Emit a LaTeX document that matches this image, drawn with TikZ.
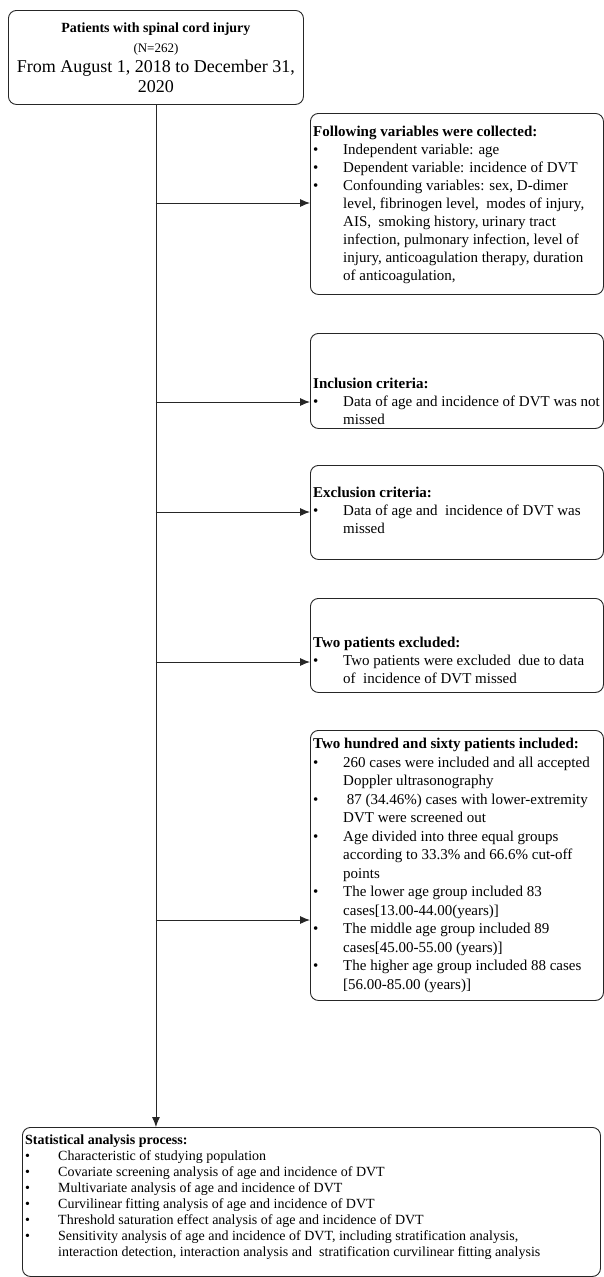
\documentclass[tikz,border=0pt]{standalone}
\usepackage{fontspec}
\setmainfont{Liberation Serif}
\usetikzlibrary{arrows.meta,calc}
\newcommand{\bul}[2][30pt]{\makebox[#1][l]{\textbullet}#2}
\newcommand{\cont}[2][30pt]{\hspace*{#1}#2}
\begin{document}
\begin{tikzpicture}[x=1pt,y=-1pt,
  box/.style={draw=black!85, line width=0.9pt, rounded corners=8pt, anchor=north west, inner sep=0pt},
  txt/.style={anchor=north west, align=left, inner sep=0pt, font=\fontsize{15}{18}\selectfont},
  conn/.style={draw=black!85, line width=0.9pt},
  arr/.style={conn, -{Latex[length=10pt,width=8pt]}}]
\useasboundingbox (0,0) rectangle (604,1277);

% top box
\node[box, minimum width=295pt, minimum height=94pt, align=center,
      font=\fontsize{18}{20}\selectfont] (top) at (8,10)
 {{\fontsize{14}{17}\selectfont\bfseries Patients with spinal cord injury}\\
  {\fontsize{13}{16}\selectfont (N=262)}\\
  From August 1, 2018 to December 31,\\
  2020};

% right boxes
\node[box, minimum width=293pt, minimum height=181pt] (b1) at (310,113) {};
\node[txt] (t1) at (313,126)
 {\textbf{Following variables were collected:}\\
  \bul{Independent variable: age}\\
  \bul{Dependent variable: incidence of DVT}\\
  \bul{Confounding variables: sex, D-dimer}\\
  \cont{level, fibrinogen level,\ \ modes of injury,}\\
  \cont{AIS,\ \ smoking history, urinary tract}\\
  \cont{infection, pulmonary infection, level of}\\
  \cont{injury, anticoagulation therapy, duration}\\
  \cont{of anticoagulation,}};

\node[box, minimum width=293pt, minimum height=95pt] (b2) at (310,333) {};
\node[txt] (t2) at (313,378)
 {\textbf{Inclusion criteria:}\\
  \bul{Data of age and incidence of DVT was not}\\
  \cont{missed}};

\node[box, minimum width=293pt, minimum height=94pt] (b3) at (310,465) {};
\node[txt] (t3) at (313,487)
 {\textbf{Exclusion criteria:}\\
  \bul{Data of age and\ \ incidence of DVT was}\\
  \cont{missed}};

\node[box, minimum width=293pt, minimum height=94pt] (b4) at (310,598) {};
\node[txt] (t4) at (313,637)
 {\textbf{Two patients excluded:}\\
  \bul{Two patients were excluded\ \ due to data}\\
  \cont{of\ \ incidence of DVT missed}};

\node[box, minimum width=293pt, minimum height=270pt] (b5) at (310,730) {};
\node[txt, font=\fontsize{15}{18.5}\selectfont] (t5) at (313,738)
 {\textbf{Two hundred and sixty patients included:}\\
  \bul{260 cases were included and all accepted}\\
  \cont{Doppler ultrasonography}\\
  \bul{\ 87 (34.46\%) cases with lower-extremity}\\
  \cont{DVT were screened out}\\
  \bul{Age divided into three equal groups}\\
  \cont{according to 33.3\% and 66.6\% cut-off}\\
  \cont{points}\\
  \bul{The lower age group included 83}\\
  \cont{cases[13.00-44.00(years)]}\\
  \bul{The middle age group included 89}\\
  \cont{cases[45.00-55.00 (years)]}\\
  \bul{The higher age group included 88 cases}\\
  \cont{[56.00-85.00 (years)]}};

% bottom box
\node[box, minimum width=578pt, minimum height=149pt] (bot) at (22,1127) {};
\node[txt, font=\fontsize{14}{16}\selectfont] (t6) at (25,1135)
 {\textbf{Statistical analysis process:}\\
  \bul[33pt]{Characteristic of studying population}\\
  \bul[33pt]{Covariate screening analysis of age and incidence of DVT}\\
  \bul[33pt]{Multivariate analysis of age and incidence of DVT}\\
  \bul[33pt]{Curvilinear fitting analysis of age and incidence of DVT}\\
  \bul[33pt]{Threshold saturation effect analysis of age and incidence of DVT}\\
  \bul[33pt]{Sensitivity analysis of age and incidence of DVT, including stratification analysis,}\\
  \cont[33pt]{interaction detection, interaction analysis and\ \ stratification curvilinear fitting analysis}};

% connectors
\draw[arr] (top.south) -- (top.south |- bot.north);
\coordinate (j1) at (155.5,203);
\coordinate (j2) at (155.5,402);
\coordinate (j3) at (155.5,512);
\coordinate (j4) at (155.5,662);
\coordinate (j5) at (155.5,920);
\draw[arr] (j1) -- (j1 -| b1.west);
\draw[arr] (j2) -- (j2 -| b2.west);
\draw[arr] (j3) -- (j3 -| b3.west);
\draw[arr] (j4) -- (j4 -| b4.west);
\draw[arr] (j5) -- (j5 -| b5.west);
\end{tikzpicture}
\end{document}
